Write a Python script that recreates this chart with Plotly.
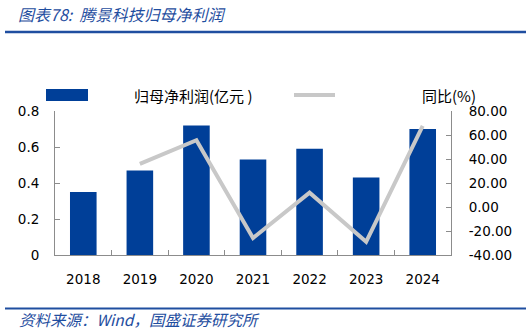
import plotly.graph_objects as go

years = ["2018", "2019", "2020", "2021", "2022", "2023", "2024"]
profit = [0.35, 0.47, 0.72, 0.53, 0.59, 0.43, 0.70]
yoy = [None, 36.0, 55.7, -25.9, 11.9, -29.0, 67.6]
left_ticks = [0, 0.2, 0.4, 0.6, 0.8]
left_labels = ["0", "0.2", "0.4", "0.6", "0.8"]
right_ticks = [-40, -20, 0, 20, 40, 60, 80]
right_labels = ["-40.00", "-20.00", "0.00", "20.00", "40.00", "60.00", "80.00"]
title_text = "图表78:  腾景科技归母净利润"
source_text = "资料来源：Wind，国盛证券研究所"
bar_name = "归母净利润(亿元 )"
line_name = "同比(%)"

W, H = 531, 332
L, R, T, B = 55, 80, 111, 77
pw, ph = W - L - R, H - T - B

def px(x):
    return (x - L) / pw

def py(y):
    return (H - B - y) / ph

BAR = "#003F98"
LINE = "#C8C8C8"
BLUE = "#1F4EA0"
AX = "#8C8C8C"
FONT = "DejaVu Sans"
CJK = "Noto Sans CJK SC"

fig = go.Figure()
fig.add_trace(go.Bar(x=years, y=profit, name=bar_name, marker_color=BAR,
                     marker_line_width=0, width=0.47, yaxis="y"))
fig.add_trace(go.Scatter(x=years, y=yoy, name=line_name, mode="lines",
                         line=dict(color=LINE, width=4), yaxis="y2",
                         connectgaps=False))

shapes = [
    dict(type="line", xref="paper", yref="paper", x0=px(5), x1=px(526), y0=py(32), y1=py(32),
         line=dict(color=BLUE, width=2.5)),
    dict(type="line", xref="paper", yref="paper", x0=px(5), x1=px(526), y0=py(308.5), y1=py(308.5),
         line=dict(color=BLUE, width=2)),
    dict(type="rect", xref="paper", yref="paper", x0=px(46), x1=px(88), y0=py(101), y1=py(89),
         fillcolor=BAR, line=dict(width=0)),
    dict(type="line", xref="paper", yref="paper", x0=px(294), x1=px(335), y0=py(95), y1=py(95),
         line=dict(color=LINE, width=4)),
]

annotations = [
    dict(text=title_text, xref="paper", yref="paper", x=px(16), y=py(14), xanchor="left",
         yanchor="middle", showarrow=False,
         font=dict(family=CJK, size=16, color=BLUE, style="italic")),
    dict(text=source_text, xref="paper", yref="paper", x=px(17), y=py(319), xanchor="left",
         yanchor="middle", showarrow=False,
         font=dict(family=CJK, size=15.5, color=BLUE, style="italic")),
    dict(text=bar_name, xref="paper", yref="paper", x=px(132), y=py(95), xanchor="left",
         yanchor="middle", showarrow=False,
         font=dict(family=CJK, size=15, color="#000000")),
    dict(text=line_name, xref="paper", yref="paper", x=px(420), y=py(95), xanchor="left",
         yanchor="middle", showarrow=False,
         font=dict(family=CJK, size=15, color="#000000")),
]

tickfont = dict(family=FONT, size=13.5, color="#000000")

fig.update_layout(
    width=W, height=H,
    margin=dict(l=L, r=R, t=T, b=B, pad=0),
    paper_bgcolor="white", plot_bgcolor="white",
    showlegend=False,
    bargap=0.53,
    shapes=shapes,
    annotations=annotations,
    font=dict(family=FONT, size=13.5, color="#000000"),
    xaxis=dict(type="category", showline=True, linecolor=AX, linewidth=1,
               ticks="inside", ticklen=5, tickcolor=AX, tickson="boundaries",
               showgrid=False, ticklabelstandoff=12, tickfont=tickfont),
    yaxis=dict(range=[0, 0.8], tickvals=left_ticks, ticktext=left_labels,
               showline=True, linecolor=AX, linewidth=1, ticks="inside", ticklen=5,
               tickcolor=AX, showgrid=False, zeroline=False, ticklabelstandoff=12,
               tickfont=tickfont),
    yaxis2=dict(range=[-40, 80], tickvals=right_ticks, ticktext=right_labels,
                overlaying="y", side="right", showline=True, linecolor=AX, linewidth=1,
                ticks="inside", ticklen=5, tickcolor=AX, showgrid=False, zeroline=False,
                ticklabelstandoff=14, tickfont=tickfont),
)

fig.write_html("out.html")
